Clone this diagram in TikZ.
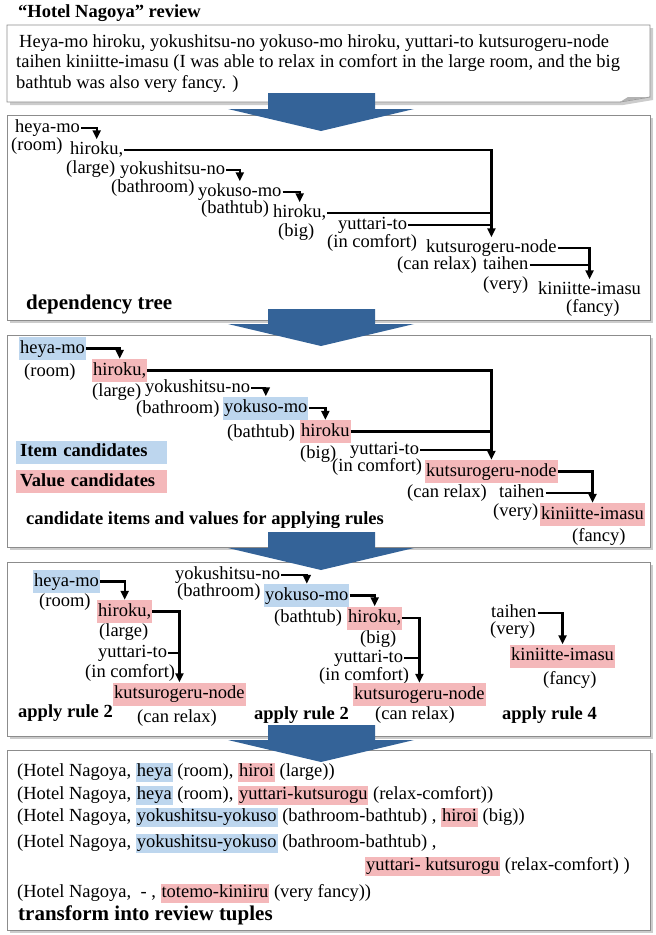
\documentclass[tikz,border=0pt]{standalone}
\usepackage{fontspec}
\setmainfont{Liberation Serif}
\usepackage{xcolor}
\usetikzlibrary{arrows.meta, shadows}

\definecolor{itemblue}{RGB}{189,214,238}
\definecolor{valuepink}{RGB}{244,184,186}
\definecolor{flowblue}{RGB}{52,99,152}

\newcommand{\hlitem}[1]{{\setlength{\fboxsep}{1pt}\colorbox{itemblue}{\rule[-4.5pt]{0pt}{16pt}#1}}}
\newcommand{\hlvalue}[1]{{\setlength{\fboxsep}{1pt}\colorbox{valuepink}{\rule[-4.5pt]{0pt}{16pt}#1}}}

\begin{document}
\begin{tikzpicture}[x=1pt, y=-1pt,
  every node/.style={font=\fontsize{18.5}{20.5}\selectfont, anchor=west, inner xsep=1pt, inner ysep=1pt, text height=14pt, text depth=5pt},
  panel/.style={draw=black!45, line width=0.8pt, fill=white, drop shadow={shadow xshift=3pt, shadow yshift=-3pt, fill=black!20, opacity=1}},
  item/.style={fill=itemblue, inner ysep=2pt},
  value/.style={fill=valuepink, inner ysep=2pt},
  caption/.style={font=\fontsize{18.5}{22}\selectfont\bfseries},
  bigcaption/.style={font=\fontsize{21}{24}\selectfont\bfseries},
  link/.style={line width=2.3pt},
  dep/.style={link, -{Triangle[length=9pt, width=8pt]}},
  flow/.style={fill=flowblue}
]
  \useasboundingbox (0,0) rectangle (656,935);

  % panels
  \path[panel] (7,25) -- (650,25) -- (650,97) -- (620,102) -- (7,102) -- cycle;
  \fill[black!30] (620,102) -- (628,97) -- (650,97) -- cycle;
  \path[panel] (7,115) rectangle (650,320);
  \path[panel] (7,335) rectangle (650,547);
  \path[panel] (7,562) rectangle (650,736);
  \path[panel] (7,750) rectangle (650,930);

  % block arrows between panels
  \foreach \ya/\yb in {93/109, 309/324, 532/548, 725/740}
    \fill[flow] (268,\ya) -- (375,\ya) -- (375,\yb) -- (414,\yb) -- (321,\yb+22) -- (228,\yb) -- (268,\yb) -- cycle;

  % review
  \node[caption] (title) at (17,13) {“Hotel Nagoya” review};
  \node[align=left, anchor=north west, text height={}, text depth={}, font=\fontsize{18.5}{20.5}\selectfont] (review) at (15,33)
    {\hspace{3pt}Heya-mo hiroku, yokushitsu-no yokuso-mo hiroku, yuttari-to kutsurogeru-node\\
     taihen kiniitte-imasu (I was able to relax in comfort in the large room, and the big\\
     bathtub was also very fancy. )};

  % dependency tree
  \node (dheya) at (14,128) {heya-mo};
  \node (dheyag) at (10,146) {(room)};
  \node (dhiro) at (69,150) {hiroku,};
  \node (dhirog) at (65,169) {(large)};
  \node (dyokus) at (119,170) {yokushitsu-no};
  \node (dyokusg) at (110,188) {(bathroom)};
  \node (dyoku) at (197,192) {yokuso-mo};
  \node (dyokug) at (200,209) {(bathtub)};
  \node (dhirob) at (272,213) {hiroku,};
  \node (dhirobg) at (277,232) {(big)};
  \node (dyutt) at (337,225) {yuttari-to};
  \node (dyuttg) at (326,243) {(in comfort)};
  \node (dkutsu) at (425,248) {kutsurogeru-node};
  \node (dkutsug) at (396,265) {(can relax)};
  \node (dtaihen) at (482,265) {taihen};
  \node (dtaiheng) at (482,285) {(very)};
  \node (dkini) at (537,290) {kiniitte-imasu};
  \node (dkinig) at (565,308) {(fancy)};
  \node[bigcaption] (dcap) at (25,305) {dependency tree};

  \draw[dep] (dheya.east) -| (dhiro.north);
  \draw[dep] (dhiro.east) -| (dkutsu.north);
  \draw[dep] (dyokus.east) -| (dyoku.north);
  \draw[dep] (dyoku.east) -| (dhirob.north);
  \draw[link] (dhirob.east) -- (dhirob.east -| dkutsu.north);
  \draw[link] (dyutt.east) -- (dyutt.east -| dkutsu.north);
  \draw[dep] (dkutsu.east) -| (dkini.north);
  \draw[link] (dtaihen.east) -- (dtaihen.east -| dkini.north);

  % candidates
  \node[item] (cheya) at (19,348.5) {heya-mo};
  \node (cheyag) at (23,372) {(room)};
  \node[value] (chiro) at (92,370.5) {hiroku,};
  \node (chirog) at (91,392) {(large)};
  \node (cyokus) at (144,388) {yokushitsu-no};
  \node (cyokusg) at (135,409) {(bathroom)};
  \node[item] (cyoku) at (223,408) {yokuso-mo};
  \node (cyokug) at (226,433) {(bathtub)};
  \node[value] (chirob) at (300,431.5) {hiroku};
  \node (chirobg) at (299,454) {(big)};
  \node (cyutt) at (349,450) {yuttari-to};
  \node (cyuttg) at (331,467) {(in comfort)};
  \node[value] (ckutsu) at (425,471.5) {kutsurogeru-node};
  \node (ckutsug) at (406,493) {(can relax)};
  \node (ctaihen) at (498,493) {taihen};
  \node (ctaiheng) at (492,512) {(very)};
  \node[value] (ckini) at (540,514.5) {kiniitte-imasu};
  \node (ckinig) at (571,537) {(fancy)};
  \node[item, caption, text width=143pt, inner xsep=4pt] (citem) at (16,452) {Item candidates};
  \node[value, caption, text width=143pt, inner xsep=4pt] (cvalue) at (16,481.5) {Value candidates};
  \node[caption] (ccap) at (25,520) {candidate items and values for applying rules};

  \draw[dep] (cheya.east) -| (chiro.north);
  \draw[dep] (chiro.east) -| (ckutsu.north);
  \draw[dep] (cyokus.east) -| (cyoku.north);
  \draw[dep] (cyoku.east) -| (chirob.north);
  \draw[link] (chirob.east) -- (chirob.east -| ckutsu.north);
  \draw[link] (cyutt.east) -- (cyutt.east -| ckutsu.north);
  \draw[dep] (ckutsu.east) -| (ckini.north);
  \draw[link] (ctaihen.east) -- (ctaihen.east -| ckini.north);

  % rules
  \node[item] (rheya) at (33,581.5) {heya-mo};
  \node (rheyag) at (38,602) {(room)};
  \node[value] (rhiro) at (97,611.5) {hiroku,};
  \node (rhirog) at (98,632) {(large)};
  \node (ryutt) at (97,653) {yuttari-to};
  \node (ryuttg) at (84,673) {(in comfort)};
  \node[value] (rkutsu) at (113,694) {kutsurogeru-node};
  \node (rkutsug) at (136,718) {(can relax)};
  \node[caption] (rcapa) at (17,713) {apply rule 2};
  \node (ryokus) at (174,575) {yokushitsu-no};
  \node (ryokusg) at (176,592) {(bathroom)};
  \node[item] (ryoku) at (264,595.5) {yokuso-mo};
  \node (ryokug) at (273,618) {(bathtub)};
  \node[value] (rhirob) at (347,618) {hiroku,};
  \node (rhirobg) at (359,639) {(big)};
  \node (ryuttb) at (333,658) {yuttari-to};
  \node (ryuttbg) at (318,676) {(in comfort)};
  \node[value] (rkutsub) at (353,694.5) {kutsurogeru-node};
  \node (rkutsubg) at (374,715) {(can relax)};
  \node[caption] (rcapb) at (253,715) {apply rule 2};
  \node (rtaihen) at (490,613) {taihen};
  \node (rtaiheng) at (489,630) {(very)};
  \node[value] (rkini) at (510,656) {kiniitte-imasu};
  \node (rkinig) at (542,680) {(fancy)};
  \node[caption] (rcapc) at (501,715) {apply rule 4};

  \draw[dep] (rheya.east) -| (rhiro.north);
  \draw[dep] (rhiro.east) -| (rkutsu.north);
  \draw[link] (ryutt.east) -- (ryutt.east -| rkutsu.north);
  \draw[dep] (ryokus.east) -| (ryoku.north);
  \draw[dep] (ryoku.east) -| (rhirob.north);
  \draw[dep] (rhirob.east) -| (rkutsub.north);
  \draw[link] (ryuttb.east) -- (ryuttb.east -| rkutsub.north);
  \draw[dep] (rtaihen.east) -| (rkini.north);

  % review tuples
  \node (tupa) at (16,772) {(Hotel Nagoya, \hlitem{heya} (room), \hlvalue{hiroi} (large))};
  \node (tupb) at (16,795) {(Hotel Nagoya, \hlitem{heya} (room), \hlvalue{yuttari-kutsurogu} (relax-comfort))};
  \node (tupc) at (16,817) {(Hotel Nagoya, \hlitem{yokushitsu-yokuso} (bathroom-bathtub) , \hlvalue{hiroi} (big))};
  \node (tupd) at (16,843) {(Hotel Nagoya, \hlitem{yokushitsu-yokuso} (bathroom-bathtub) ,};
  \node (tupdb) at (364,866) {\hlvalue{yuttari- kutsurogu} (relax-comfort) )};
  \node (tupe) at (16,893) {(Hotel Nagoya, ~- , \hlvalue{totemo-kiniiru} (very fancy))};
  \node[bigcaption] (tcap) at (17,916) {transform into review tuples};
\end{tikzpicture}
\end{document}
